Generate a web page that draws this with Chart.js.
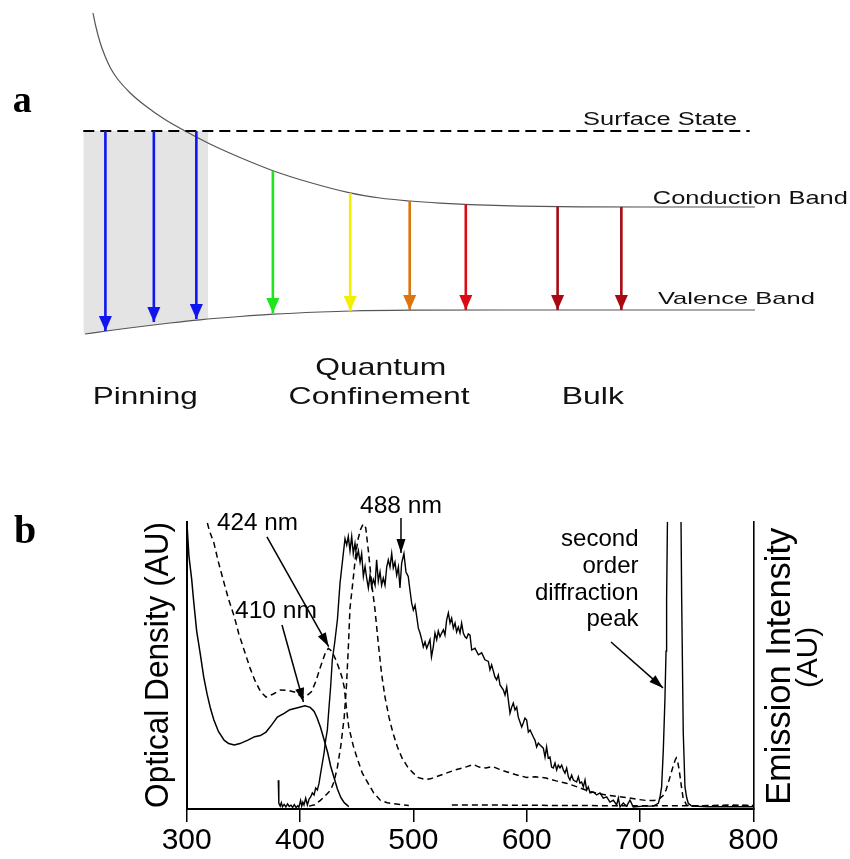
<!DOCTYPE html>
<html><head><meta charset="utf-8">
<script src="https://cdn.jsdelivr.net/npm/chart.js@4.4.1/dist/chart.umd.min.js"></script>
<style>
html,body{margin:0;padding:0;background:#fff;}
#wrap{position:relative;width:850px;height:859px;overflow:hidden;}
#ca{position:absolute;left:0;top:0;}
#cb{position:absolute;left:0;top:430px;}
</style></head><body>
<div id="wrap">
<canvas id="ca" width="850" height="430"></canvas>
<canvas id="cb" width="850" height="429"></canvas>
</div>
<script>
// ---------------- Panel a data (position along particle-size axis, energy) ----------------
const conductionBand = [[10.94,4.17],[11.29,4.03],[11.76,3.88],[12.35,3.74],[13.06,3.61],[13.88,3.505],[15.29,3.373],[17.06,3.245],[19.41,3.105],[22.0,2.98],[24.71,2.86],[28.24,2.725],[32.12,2.593],[36.47,2.475],[41.18,2.371],[44.71,2.32],[48.24,2.29],[51.76,2.269],[55.29,2.254],[61.18,2.239],[68.24,2.232],[76.47,2.23],[88.82,2.23]];
const valenceBand = [[10.0,0.96],[12.94,0.995],[15.65,1.025],[20.0,1.07],[23.53,1.102],[28.24,1.135],[32.12,1.158],[37.65,1.18],[41.18,1.19],[48.24,1.198],[58.82,1.20],[70.59,1.20],[88.82,1.20]];
const surfaceState = [[9.8,2.99],[88.2,2.99]];
const pinningTop = [[9.8,2.99],[24.5,2.99]];
const pinningBottom = [[9.8,0.955],[10.0,0.96],[12.94,0.995],[15.65,1.025],[20.0,1.07],[24.5,1.11]];
const transitionX = [12.4,18.1,23.1,32.1,41.2,48.2,54.8,65.6,73.1];
const transitionTop = [2.99,2.99,2.99,2.593,2.371,2.29,2.256,2.235,2.23];
const transitionBottom = [0.99,1.08,1.11,1.17,1.19,1.20,1.20,1.20,1.20];
const bandLabels = ['Surface State','Conduction Band','Valence Band'];
const regionLabels = ['Pinning','Quantum','Confinement','Bulk'];

// ---------------- Panel b data (wavelength nm, arbitrary units) ----------------
const absSolid = [[300,101],[302,88],[304.4,80],[306,73],[308.8,62],[312,54],[315,46],[318,40],[321,35],[324,31],[328,27],[333,24],[337,22.8],[342,22.3],[347,22.8],[354,24],[360,25.2],[365,25.6],[370,26.8],[375,29.3],[380,32],[386,33.3],[391,34.6],[397,35.2],[404.4,36],[409,35.4],[412.5,34],[415,31.8],[418,28.6],[421,24.5],[424.5,19.5],[427,15],[430,11],[433,7],[436,4],[439,2.2],[442,1.2],[443,0.8]];
const absDashed = [[316,103],[320,97],[324,92.7],[328,86],[333,78.7],[337,73],[342,67],[346,61],[351,55],[356,49],[360,45],[365,41],[370,39],[376,40],[383,41.5],[390,41.3],[395,40.8],[400,39.5],[403,39],[406,39.5],[410,40.8],[414,44.5],[418,49.5],[422,54],[425,56],[428,55],[431,52.5],[434,49.5],[437,46],[439,42.5],[441,35],[443,28.6],[447,22],[451,17],[455,12.5],[460,9],[465,5.6],[471,3],[477,2.2],[483,1.8],[490,1.5],[496,1.2],[510,null],[534,1.4],[560,1.4],[600,1.3],[650,1.2],[700,1.1],[750,1.1],[800,1.2]];
const emSolid = [[380.8,10],[381.3,2],[382.5,1],[383.5,2.2],[384.5,0.8],[386,1.6],[387.5,0.7],[389,1.8],[390.5,0.9],[392,1.3],[393.5,0.6],[395,1.5],[396.5,0.5],[398,1.1],[399,0.6],[400.5,3],[401.5,1],[402.5,2.4],[403.5,1.4],[405,3.8],[406.5,1.4],[408,3.5],[409.4,4.2],[410.9,5.6],[412.4,4.9],[413.8,7.3],[415.3,6.6],[416.8,9],[418.2,12.5],[419.7,16],[421.2,19.5],[422.6,24],[424.1,27.5],[425.6,35.5],[427,42.5],[428.5,52],[430.6,58],[433,66],[435.3,78.7],[436.8,84],[438.2,89],[439.7,94.2],[441.2,92],[442.6,95],[444.1,90],[445.6,95],[447,89],[448.5,92.5],[450,87.5],[451.5,90],[453,86],[454.4,89],[455.9,81],[457.4,84.5],[458.8,80.5],[460.3,77],[461.8,81.5],[463.2,77.4],[464.7,80],[466.2,78],[467.6,86.8],[469.1,79.4],[470.6,82.6],[472,78],[473.5,80.5],[475,78],[476.5,84.3],[477.9,86.8],[479.4,84.3],[480.9,89],[482.3,84],[483.8,86],[485.3,81.5],[486.8,84.3],[488.2,77],[489.7,85.7],[491.7,89],[493.5,82.6],[495.5,81],[497,76.3],[498.5,71.8],[500,69.3],[501.5,71],[503,67],[504.4,63],[505.9,61.3],[507.4,59],[508.8,56.5],[510.3,58.2],[511.8,56],[514.7,59],[516,53],[517.6,56.5],[519.1,61.3],[520.6,59],[522,62],[523.5,60],[525,61.3],[526.5,62.4],[527.9,60.6],[529.4,65.9],[530.9,68.3],[532.4,64.8],[533.8,66.5],[535.3,63],[536.8,64.8],[538.2,61.7],[539.7,63.4],[541.2,61.3],[542.6,64.8],[544.1,61.3],[545.6,60],[547,59.5],[548.5,61],[550,60.6],[551.5,55.4],[554.4,56],[557.4,53.7],[560.3,54.4],[563.2,52],[566.2,51.4],[567.6,48.5],[569.1,50.2],[572,46],[573.5,45],[575,46.7],[576.5,43.2],[579.4,41.5],[580.9,39.7],[582.4,42.5],[583.8,38],[585.3,33.4],[586.8,35.5],[588.2,36.9],[589.7,34.5],[591.2,35.5],[592.6,32],[594.1,30.3],[595.6,28.6],[597,30],[598.5,31.7],[600,31],[601.5,26.8],[603,27.5],[606,25],[607.3,24],[608.8,21.6],[610.3,23],[611.8,22.3],[614.7,21.2],[616.2,18.1],[617.6,21.6],[619,17.8],[620.6,18.1],[622,14.6],[623.5,14.3],[625,16],[626.5,13.6],[627.9,15.3],[629.4,14.3],[630.9,15.3],[632.4,13.6],[633.8,12.5],[635.3,14.3],[636.8,11.2],[638.2,10.1],[639.7,11.8],[641.2,10.1],[644.1,9.4],[645.6,11.2],[647,9],[648.5,9.4],[650,7.7],[651.5,10.1],[653,6.6],[654.4,7.7],[655.9,5.6],[658.8,5.9],[661.8,4.9],[664.7,5.6],[667.6,3.8],[670.6,4.2],[673.5,2.4],[676.5,3.1],[679.4,1.4],[680.9,3.8],[682.4,0.7],[685.3,2.1],[688.2,1],[691.2,3.1],[694.1,0.7],[703,1],[711.8,1],[716.2,2],[717.6,4],[719.1,7.7],[720.6,20.6],[722,38],[723,55],[723.5,73],[724.5,110],[730,200],[736,110],[736.8,73],[738.2,26.5],[739.7,7.7],[741.2,4],[742.6,2],[745.6,1],[760,0.8],[780,0.8],[800,0.8]];
const emDashed = [[408,1],[413,1.5],[418,3],[422,4.5],[427,6.6],[430,9.5],[433,14.6],[436,22],[439,32],[441,43],[442.6,56],[444.1,70],[446.6,79],[449,88],[451,93.7],[453.5,97.5],[455.7,99.3],[458,98],[460.3,90],[463.2,78.7],[466,70],[469,58],[472,47],[475,39],[478.5,32],[482,26.5],[486,21.6],[490,17.8],[495,14.6],[500,12.5],[504,11],[510,10.3],[515,10.5],[522,11.5],[529,12.5],[537,13.6],[546,14.6],[553,15.5],[558,14.6],[564,14.3],[570,14.8],[576,13.8],[582,13],[590,12],[600,11],[608,11.2],[617,10.8],[626,9.8],[635,9],[644,7.8],[652,6.6],[661,5.6],[670,4.9],[679,4.4],[688,4],[697,3.4],[705,3],[712,3],[716,3.2],[720,4.5],[723,6.6],[726,10.5],[729,14.6],[731,17],[732,17.8],[733.5,16],[734.6,13.6],[736.5,8],[738,4],[741,1.4],[745,1],[760,1.2],[780,1.4],[800,1.2]];
const xTicks = [300,400,500,600,700,800];
const peakLabels = ['424 nm','410 nm','488 nm'];
const noteLines = ['second','order','diffraction','peak'];
const axisTitles = ['Optical Density (AU)','Emission Intensity','(AU)'];

// ---------------- helpers ----------------
const FAM = '"Liberation Sans", Arial, Helvetica, sans-serif';
const SERIF = '"Liberation Serif", "Times New Roman", serif';
const pts = a => a.map(([x,y]) => ({x, y}));

function fitText(ctx, txt, x, y, px, width, align, rot, family, weight) {
  ctx.save();
  ctx.font = (weight ? weight + ' ' : '') + px + 'px ' + (family || FAM);
  const w = ctx.measureText(txt).width;
  const s = width ? width / w : 1;
  ctx.translate(x, y);
  if (rot) ctx.rotate(rot);
  ctx.scale(s, 1);
  ctx.textAlign = align || 'left';
  ctx.textBaseline = 'alphabetic';
  ctx.fillText(txt, 0, 0);
  ctx.restore();
}
function arrowHead(ctx, x1, y1, x2, y2, len, half, color) {
  const a = Math.atan2(y2 - y1, x2 - x1);
  ctx.save();
  ctx.fillStyle = color;
  ctx.beginPath();
  ctx.moveTo(x2, y2);
  ctx.lineTo(x2 - len * Math.cos(a) + half * Math.sin(a), y2 - len * Math.sin(a) - half * Math.cos(a));
  ctx.lineTo(x2 - len * Math.cos(a) - half * Math.sin(a), y2 - len * Math.sin(a) + half * Math.cos(a));
  ctx.closePath();
  ctx.fill();
  ctx.restore();
}

// ---------------- Panel a ----------------
const transitionColors = ['#0f16ee','#0f16ee','#0f16ee','#1de61d','#f4ee00','#dc7410','#dc0a14','#a80a10','#a80a10'];
const arrowSets = transitionX.map((x, i) => ({
  data: pts([[x, transitionTop[i]], [x, transitionBottom[i]]]),
  borderColor: transitionColors[i], borderWidth: 2.6, showLine: true, pointRadius: 0,
  arrowHead: true, clip: false, order: 1
}));

const panelAPlugin = {
  id: 'panelA',
  afterDatasetsDraw(chart) {
    const ctx = chart.ctx;
    chart.data.datasets.forEach((ds, i) => {
      if (!ds.arrowHead) return;
      const m = chart.getDatasetMeta(i).data;
      arrowHead(ctx, m[0].x, m[0].y, m[1].x, m[1].y, 15, 6.5, ds.borderColor);
    });
  },
  afterDraw(chart) {
    const ctx = chart.ctx, X = v => chart.scales.x.getPixelForValue(v), Y = v => chart.scales.y.getPixelForValue(v);
    ctx.fillStyle = '#111';
    fitText(ctx, bandLabels[0], X(68.6), Y(3.05), 17.5, 154, 'left');
    fitText(ctx, bandLabels[1], X(76.8), Y(2.26), 17.7, 195, 'left');
    fitText(ctx, bandLabels[2], X(77.4), Y(1.26), 17, 157, 'left');
    fitText(ctx, regionLabels[0], X(10.9), Y(0.26), 24, 105, 'left');
    fitText(ctx, regionLabels[1], X(44.8), Y(0.55), 24, 131, 'center');
    fitText(ctx, regionLabels[2], X(44.6), Y(0.26), 24, 181, 'center');
    fitText(ctx, regionLabels[3], X(66.1), Y(0.26), 24, 62, 'left');
    ctx.fillStyle = '#000';
    fitText(ctx, 'a', X(1.5), Y(3.18), 38, 0, 'left', 0, SERIF, 'bold');
  }
};

new Chart(document.getElementById('ca'), {
  type: 'scatter',
  data: { datasets: [
    { data: pts(pinningTop), showLine: true, borderWidth: 0, borderColor: 'rgba(0,0,0,0)', backgroundColor: '#e4e4e4', pointRadius: 0, fill: 1, order: 10 },
    { data: pts(pinningBottom), showLine: true, borderWidth: 0, borderColor: 'rgba(0,0,0,0)', pointRadius: 0, fill: false, order: 10 },
    { data: pts(surfaceState), showLine: true, borderColor: '#000', borderWidth: 2, borderDash: [11, 6], pointRadius: 0, order: 2, clip: false },
    { data: pts(conductionBand), showLine: true, borderColor: '#555', borderWidth: 1.2, pointRadius: 0, cubicInterpolationMode: 'monotone', order: 3, clip: false },
    { data: pts(valenceBand), showLine: true, borderColor: '#555', borderWidth: 1.2, pointRadius: 0, cubicInterpolationMode: 'monotone', order: 3, clip: false },
    ...arrowSets
  ]},
  options: {
    responsive: false, animation: false, devicePixelRatio: 1, events: [],
    layout: { padding: 0 },
    plugins: { legend: { display: false }, tooltip: { enabled: false } },
    scales: {
      x: { type: 'linear', display: false, min: 0, max: 100 },
      y: { type: 'linear', display: false, min: 0, max: 4.3 }
    }
  },
  plugins: [panelAPlugin]
});

// ---------------- Panel b ----------------
const panelBPlugin = {
  id: 'panelB',
  afterDraw(chart) {
    const ctx = chart.ctx, X = v => chart.scales.x.getPixelForValue(v), Y = v => chart.scales.y.getPixelForValue(v);
    ctx.fillStyle = '#000';
    fitText(ctx, peakLabels[0], X(362.5), Y(97.2), 24, 81, 'center');
    fitText(ctx, peakLabels[1], X(378.8), Y(66.6), 24, 82, 'center');
    fitText(ctx, peakLabels[2], X(489.1), Y(103.1), 24, 82, 'center');
    const noteY = [91.7, 82.2, 72.9, 63.7];
    noteLines.forEach((t, i) => fitText(ctx, t, X(698.7), Y(noteY[i]), 24, 0, 'right'));
    const arrows = [[370.8,94.8,425.3,56.6],[384.1,64.1,403,37.3],[489.1,101.4,489.1,89.2],[674.4,58.2,720.3,42.2]];
    ctx.save();
    ctx.strokeStyle = '#000'; ctx.lineWidth = 1.5;
    arrows.forEach(([a,b,c,d]) => {
      ctx.beginPath(); ctx.moveTo(X(a), Y(b)); ctx.lineTo(X(c), Y(d)); ctx.stroke();
      arrowHead(ctx, X(a), Y(b), X(c), Y(d), 14, 4.5, '#000');
    });
    ctx.restore();
    fitText(ctx, axisTitles[0], X(283.5), Y(50.2), 34, 286, 'center', -Math.PI / 2);
    fitText(ctx, axisTitles[1], X(832.3), Y(49.7), 35, 277, 'center', -Math.PI / 2);
    fitText(ctx, axisTitles[2], X(856.1), Y(52.8), 30, 61, 'center', -Math.PI / 2);
    fitText(ctx, 'b', X(147.6), Y(92.7), 40, 0, 'left', 0, SERIF, 'bold');
  }
};

const lineDs = (arr, dash, w) => ({
  data: pts(arr), showLine: true, borderColor: '#000', borderWidth: w,
  borderDash: dash, pointRadius: 0, spanGaps: false, tension: 0
});

new Chart(document.getElementById('cb'), {
  type: 'scatter',
  data: { datasets: [
    lineDs(absSolid, [], 1.5),
    lineDs(absDashed, [6, 4], 1.5),
    lineDs(emSolid, [], 1.4),
    lineDs(emDashed, [6, 4], 1.5)
  ]},
  options: {
    responsive: false, animation: false, devicePixelRatio: 1, events: [],
    layout: { padding: { top: 92, left: 186.7, right: 96.7, bottom: 0 } },
    plugins: { legend: { display: false }, tooltip: { enabled: false } },
    scales: {
      x: {
        type: 'linear', min: 300, max: 800,
        afterBuildTicks: s => { s.ticks = xTicks.map(v => ({ value: v })); },
        afterFit: s => { s.height = 50; },
        ticks: { color: '#000', font: { family: FAM, size: 30 }, padding: 1, maxRotation: 0, autoSkip: false },
        grid: { display: true, drawOnChartArea: false, drawTicks: true, tickLength: 13, color: '#000', lineWidth: 1.5 },
        border: { display: true, color: '#000', width: 2 }
      },
      y: {
        type: 'linear', position: 'left', min: 0, max: 100,
        afterFit: s => { s.width = 0; },
        ticks: { display: false }, grid: { display: false },
        border: { display: true, color: '#000', width: 2 }
      },
      y2: {
        type: 'linear', position: 'right', min: 0, max: 100, display: true,
        afterFit: s => { s.width = 0; },
        ticks: { display: false }, grid: { display: false },
        border: { display: true, color: '#000', width: 1.6 }
      }
    }
  },
  plugins: [panelBPlugin]
});
</script>
</body></html>
